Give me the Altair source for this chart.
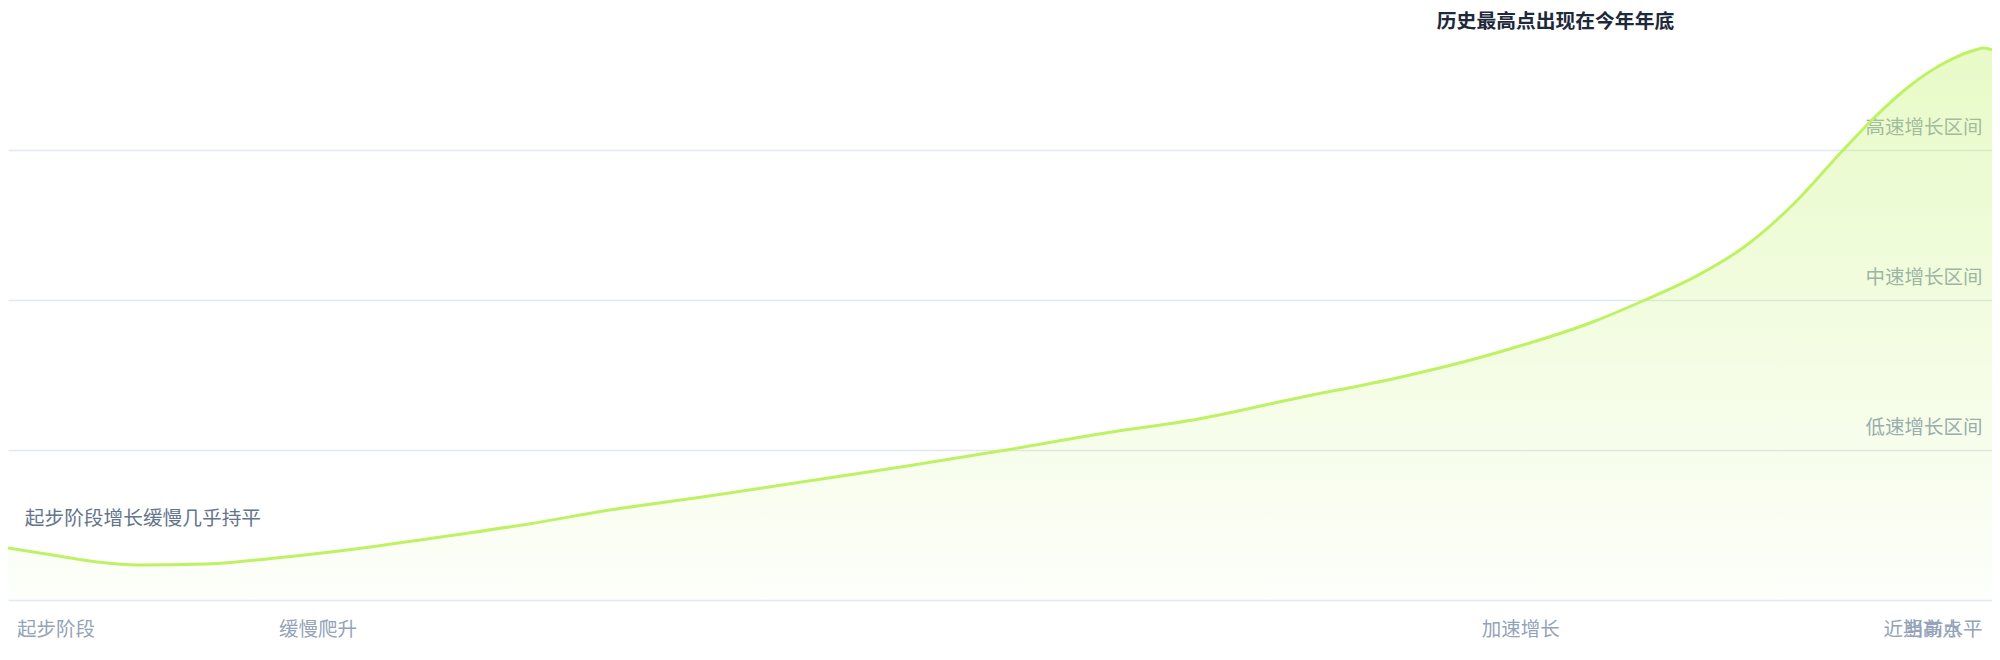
import altair as alt
import pandas as pd

# ---- data ----
t_pos = [0, 45, 90, 130, 200, 270, 350, 450, 525, 600, 700, 800, 900, 1000, 1100,
         1200, 1300, 1400, 1500, 1600, 1650, 1700, 1750, 1800, 1850, 1883, 1917,
         1950, 1983, 1992, 2000]
values = [34.7, 30.0, 25.3, 23.3, 24.0, 28.0, 34.0, 43.3, 50.7, 59.3, 68.7, 78.7,
          88.7, 99.3, 110.7, 120.7, 134.7, 148.0, 164.7, 186.0, 200.0, 215.3, 235.3,
          264.0, 300.0, 322.7, 342.7, 357.3, 366.7, 368.0, 366.7]

x_tick_pos = [48.5, 312.5, 1525, 1930, 1951]
x_tick_labels = ["起步阶段", "缓慢爬升", "加速增长", "近期高点", "当前水平"]

y_tick_values = [0, 100, 200, 300]
y_tick_labels = ["", "低速增长区间", "中速增长区间", "高速增长区间"]

peak_ann_x = [1560]
peak_ann_y = [385.2]
peak_ann_text = ["历史最高点出现在今年年底"]

start_ann_x = [136]
start_ann_y = [54.0]
start_ann_text = ["起步阶段增长缓慢几乎持平"]

FONT = "Noto Sans CJK SC"

df = pd.DataFrame({"t": t_pos, "v": values})
df_x = pd.DataFrame({"t": x_tick_pos, "label": x_tick_labels})
df_peak = pd.DataFrame({"t": peak_ann_x, "v": peak_ann_y, "text": peak_ann_text})
df_start = pd.DataFrame({"t": start_ann_x, "v": start_ann_y, "text": start_ann_text})

label_expr = " : ".join(
    f"datum.value == {v} ? '{s}'" for v, s in zip(y_tick_values, y_tick_labels)
) + " : ''"

x_scale = alt.Scale(domain=[0, 2000], nice=False, zero=False)
y_scale = alt.Scale(domain=[0, 394.67], nice=False)

fill = alt.Gradient(
    gradient="linear",
    stops=[
        alt.GradientStop(color="rgba(190,242,100,0.36)", offset=0),
        alt.GradientStop(color="rgba(190,242,100,0.03)", offset=1),
    ],
    x1=0, x2=0, y1=0, y2=1,
)

area = alt.Chart(df).mark_area(color=fill, interpolate="monotone").encode(
    x=alt.X("t:Q", scale=x_scale, axis=None),
    y=alt.Y(
        "v:Q",
        scale=y_scale,
        axis=alt.Axis(
            orient="right",
            values=y_tick_values,
            labelExpr=label_expr,
            grid=True,
            gridColor="#e2e8f0",
            gridWidth=1.5,
            domain=False,
            ticks=False,
            tickSize=0,
            labelAlign="right",
            labelPadding=-10,
            labelBaseline="middle",
            labelOffset=-22.5,
            labelColor="#94a3b8",
            labelFont=FONT,
            labelFontSize=19.5,
            labelOverlap=False,
            title=None,
        ),
    ),
)

line = alt.Chart(df).mark_line(
    color="#bef264", strokeWidth=3, interpolate="monotone"
).encode(
    x=alt.X("t:Q", scale=x_scale, axis=None),
    y=alt.Y("v:Q", scale=y_scale),
)

xlabels = alt.Chart(df_x).mark_text(
    font=FONT, fontSize=19.5, color="#94a3b8", align="center",
    baseline="middle", dy=29.5,
).encode(
    x=alt.X("t:Q", scale=x_scale, axis=None),
    y=alt.datum(0),
    text="label:N",
)

peak_ann = alt.Chart(df_peak).mark_text(
    font=FONT, fontSize=19.8, fontWeight=600, color="#1e293b",
    align="center", baseline="middle",
).encode(
    x=alt.X("t:Q", scale=x_scale, axis=None),
    y=alt.Y("v:Q", scale=y_scale),
    text="text:N",
)

start_ann = alt.Chart(df_start).mark_text(
    font=FONT, fontSize=19.7, color="#64748b",
    align="center", baseline="middle",
).encode(
    x=alt.X("t:Q", scale=x_scale, axis=None),
    y=alt.Y("v:Q", scale=y_scale),
    text="text:N",
)

chart = alt.layer(area, line, xlabels, peak_ann, start_ann).properties(
    width=1984,
    height=592,
    autosize=alt.AutoSizeParams(type="none"),
    padding={"left": 0, "top": 0, "right": 0, "bottom": 44},
    background="white",
).configure_view(stroke=None)

chart.save("out.html", embed_options={"renderer": "svg", "actions": False})
